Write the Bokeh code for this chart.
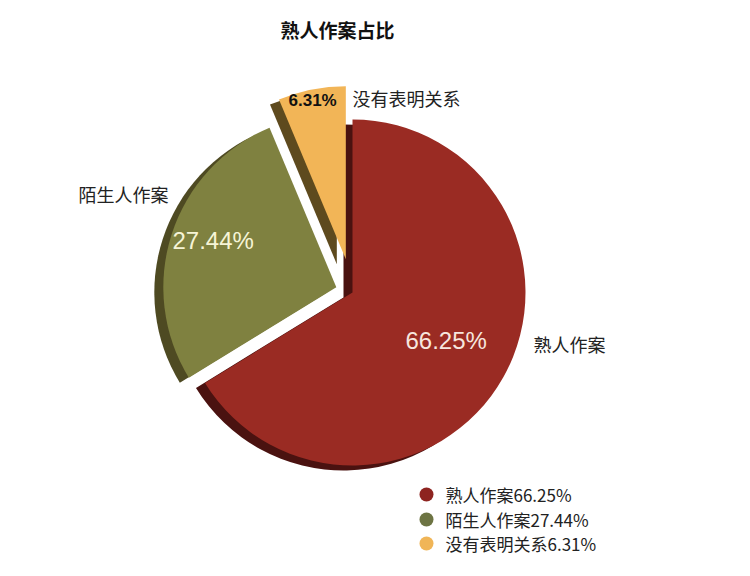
import numpy as np
from bokeh.plotting import figure
from bokeh.models import Range1d
from bokeh.core.properties import value
from bokeh.embed import file_html
from bokeh.resources import INLINE

# ---- data ----
categories = ["熟人作案", "陌生人作案", "没有表明关系"]
shares = [66.25, 27.44, 6.31]
pct_labels = ["66.25%", "27.44%", "6.31%"]
title_text = "熟人作案占比"

# ---- style ----
face_colors = ["#9a2b23", "#7f8140", "#f2b557"]
side_colors = ["#4a1210", "#4e4a22", "#5e4a1e"]
legend_colors = ["#8e2420", "#6d7443", "#f0b557"]
explode = [0, 17, 34]

W, H = 734, 560
p = figure(width=W, height=H, x_range=Range1d(0, W), y_range=Range1d(0, H),
           output_backend="svg", toolbar_location=None, min_border=0)
p.axis.visible = False
p.grid.visible = False
p.outline_line_color = None
p.background_fill_color = "white"
p.border_fill_color = "white"

def X(img_x):
    return img_x
def Y(img_y):
    return H - img_y

cx, cy, R = X(352), Y(292), 173
frac = np.array(shares) / sum(shares)
cum = np.concatenate([[0], np.cumsum(frac)]) * 2 * np.pi  # clockwise from top

for i in range(len(shares)):
    t1, t2 = cum[i], cum[i + 1]
    tm = (t1 + t2) / 2
    vx = cx + explode[i] * np.sin(tm)
    vy = cy + explode[i] * np.cos(tm)
    start = np.pi / 2 - t2
    end = np.pi / 2 - t1
    # 3D side (extrusion)
    p.wedge(x=vx - 9, y=vy - 5, radius=R, start_angle=start, end_angle=end,
            fill_color=side_colors[i], line_color=None)
    # face
    p.wedge(x=vx, y=vy, radius=R, start_angle=start, end_angle=end,
            fill_color=face_colors[i], line_color=None)

cjk = value("Noto Sans CJK SC")
num = value("Liberation Sans")

p.text(x=[X(337)], y=[Y(29)], text=[title_text], text_font=cjk,
       text_font_size="19px", text_font_style="bold", text_align="center",
       text_baseline="middle", text_color="#111111")

# category labels
p.text(x=[X(533), X(78), X(352)], y=[Y(343), Y(193), Y(97)], text=categories,
       text_font=cjk, text_font_size="18px", text_align="left",
       text_baseline="middle", text_color="#222222")

# percentage labels
p.text(x=[X(405), X(172)], y=[Y(340), Y(240)], text=pct_labels[:2],
       text_font=num, text_font_size="24px", text_align="left",
       text_baseline="middle", text_color=["#f7e6de", "#f6f4d6"])
p.text(x=[X(288)], y=[Y(100)], text=[pct_labels[2]], text_font=num,
       text_font_size="17px", text_font_style="bold", text_align="left",
       text_baseline="middle", text_color="#111111")

# legend
ly = [Y(494), Y(519), Y(543)]
p.scatter(x=[X(426)] * 3, y=ly, size=14, marker="circle",
          fill_color=legend_colors, line_color=None)
p.text(x=[X(445)] * 3, y=ly,
       text=[c + s for c, s in zip(categories, pct_labels)],
       text_font=cjk, text_font_size="17px", text_align="left",
       text_baseline="middle", text_color="#222222")

open("out.html", "w").write(file_html(p, INLINE))
